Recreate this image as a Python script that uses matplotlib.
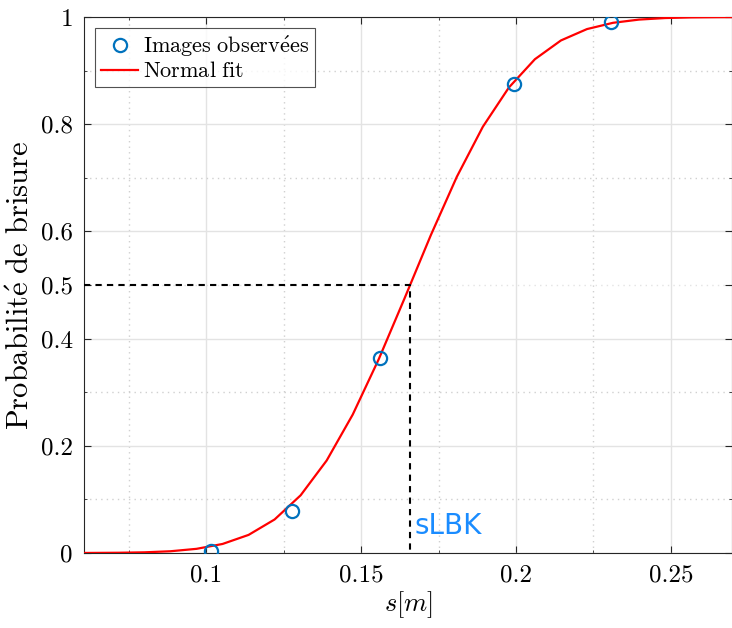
import matplotlib
matplotlib.use("Agg")
import matplotlib.pyplot as plt
from matplotlib.ticker import MultipleLocator

plt.rcParams['font.family'] = ['cmr10', 'DejaVu Serif']
plt.rcParams['mathtext.fontset'] = 'cm'
plt.rcParams['axes.formatter.use_mathtext'] = True

# observed images (s in m, breaking probability)
obs_s = [0.1015, 0.1276, 0.1560, 0.1995, 0.2308]
obs_p = [0.004, 0.078, 0.364, 0.875, 0.991]

# normal fit curve
fit_s = [0.0606, 0.0633, 0.0717, 0.0801, 0.0885, 0.0969, 0.1053, 0.1137, 0.1221,
         0.1305, 0.1389, 0.1473, 0.1557, 0.1641, 0.1725, 0.1809, 0.1893, 0.1977,
         0.2061, 0.2145, 0.2229, 0.2313, 0.2397, 0.2481, 0.2565, 0.2649, 0.2733]
fit_p = [0.0001, 0.0002, 0.0005, 0.0013, 0.0033, 0.0078, 0.0169, 0.0338, 0.0626,
         0.1077, 0.1726, 0.2582, 0.3616, 0.4761, 0.5929, 0.7019, 0.7953, 0.8685,
         0.9213, 0.9563, 0.9775, 0.9892, 0.9952, 0.9981, 0.9993, 0.9997, 0.9999]

s_lbk = 0.1658
x_ticks = [0.1, 0.15, 0.2, 0.25]
x_labels = ['0.1', '0.15', '0.2', '0.25']
y_ticks = [0, 0.2, 0.4, 0.5, 0.6, 0.8, 1]
y_labels = ['0', '0.2', '0.4', '0.5', '0.6', '0.8', '1']

fig = plt.figure(figsize=(7.32, 6.28), dpi=100)
ax = fig.add_axes([0.1148, 0.1194, 0.8852, 0.8535])
xmin, xmax = 0.0606, 0.2697

ax.plot(obs_s, obs_p, 'o', mfc='none', mec='#0072BD', ms=9.5, mew=1.6,
        label=r'$\mathrm{Images\ observ\acute{e}es}$', zorder=4)
ax.plot(fit_s, fit_p, '-', color='red', lw=1.6, label=r'$\mathrm{Normal\ fit}$', zorder=3)
ax.plot([xmin, s_lbk, s_lbk], [0.5, 0.5, 0], '--', color='black', lw=1.5,
        dashes=(3, 2.5), zorder=5)
ax.text(0.1672, 0.036, 'sLBK', color='#1a8cff', fontsize=20,
        family=['DejaVu Sans'], zorder=6)

ax.set_xlim(xmin, xmax)
ax.set_ylim(0, 1)
ax.set_xticks(x_ticks)
ax.set_xticklabels(x_labels)
ax.set_yticks(y_ticks)
ax.set_yticklabels(y_labels)
ax.xaxis.set_minor_locator(MultipleLocator(0.025))
ax.yaxis.set_minor_locator(MultipleLocator(0.1))

ax.grid(True, which='major', color='#e3e3e3', lw=1.0, ls='-')
ax.grid(True, which='minor', color='#d0d0d0', lw=1.0, ls=(0, (1, 3)))
ax.yaxis.get_gridlines()[3].set_linestyle((0, (1, 3)))
ax.set_axisbelow(True)

ax.tick_params(which='both', direction='in', top=True, right=True, labelsize=18,
               color='#262626', pad=8)
ax.tick_params(which='major', length=5)
ax.tick_params(which='minor', length=2.5)
for sp in ax.spines.values():
    sp.set_color('#262626')
    sp.set_linewidth(0.8)

ax.set_xlabel(r'$s[m]$', fontsize=19, labelpad=2)
ax.set_ylabel(r'$\mathrm{Probabilit\acute{e}\ de\ brisure}$', fontsize=22, labelpad=4)

leg = ax.legend(loc='upper left', fontsize=16, frameon=True, fancybox=False,
                edgecolor='#262626', borderpad=0.25, labelspacing=0.12,
                handlelength=1.7, handletextpad=0.2, borderaxespad=0.5)
leg.get_frame().set_linewidth(0.8)

fig.savefig('out.png', dpi=100)
